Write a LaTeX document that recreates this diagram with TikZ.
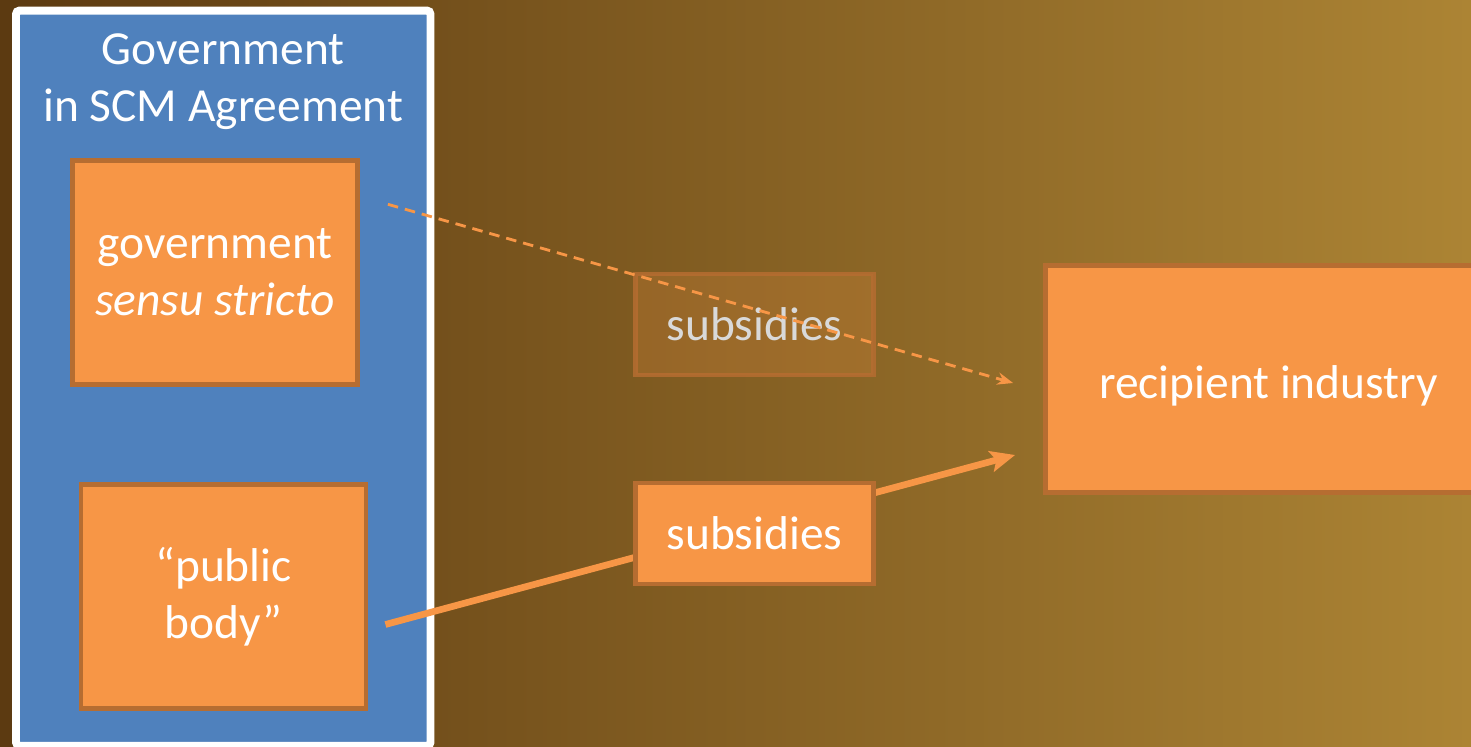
\documentclass[tikz,border=0pt]{standalone}
\usepackage{fontspec}
\setmainfont{Carlito}
\usetikzlibrary{positioning, calc, arrows.meta}

\definecolor{bgleft}{RGB}{92,58,17}
\definecolor{bgright}{RGB}{172,132,52}
\definecolor{scmblue}{RGB}{79,129,189}
\definecolor{boxfill}{RGB}{247,150,70}
\definecolor{boxline}{RGB}{182,109,49}

\begin{document}
\begin{tikzpicture}[x=0.02cm, y=-0.02cm, font=\fontsize{27}{32.5}\selectfont]
    % Define block styles
    \tikzstyle{panel} = [rectangle, draw=white, fill=scmblue, line width=4.5pt, rounded corners=2pt, minimum width=8.29cm, minimum height=14.71cm, inner sep=0pt]
    \tikzstyle{title} = [text=white, align=center, inner sep=0pt]
    \tikzstyle{block} = [rectangle, draw=boxline, fill=boxfill, line width=2.8pt, text=white, align=center, inner sep=0pt]
    \tikzstyle{govt} = [block, minimum width=5.7cm, minimum height=4.47cm]
    \tikzstyle{subs} = [block, minimum width=4.76cm, minimum height=2.02cm]
    \tikzstyle{faded} = [subs, fill opacity=0.2, draw opacity=0.85, text opacity=1, text=black!15]
    \tikzstyle{flow} = [boxfill]
    % Background
    \useasboundingbox (0,0) rectangle (1471,747);
    \shade [left color=bgleft, right color=bgright] (0,0) rectangle (1471,747);
    % Blocks and nodes
    \node [panel] (scm) at (223.25,378.25) {};
    \node [title, below=0.54cm of scm.north] (scmtitle) {Government\\in SCM Agreement};
    \node [govt] (g1) at (215,272.5) {government\\\textit{sensu stricto}};
    \node [govt] (g2) at (223.5,596.5) {“public\\body”};
    \node [block, minimum width=8.92cm, minimum height=4.54cm, text height=26pt] (rec) at (1268.5,379) {recipient industry};
    \node [faded] (sub1) at (754.5,324.5) {subsidies};

    \coordinate (dstart) at ($(g1.north east)+(28,46)$);
    \coordinate (dend) at ($(rec.west)+(-30,4)$);
    \coordinate (sstart) at ($(g2.east)+(17,28)$);
    \coordinate (send) at ($(rec.west)+(-28,76)$);

    % Connections
    \draw[flow, line width=1.6pt, dash pattern=on 6pt off 4pt, -{Stealth[length=9pt, width=7pt]}] (dstart) -- (dend);
    \draw[flow, line width=3.8pt, -{Stealth[length=14pt, width=12pt, inset=3pt]}] (sstart) -- (send);
    \node [subs] (sub2) at (754.5,533.5) {subsidies};

  \end{tikzpicture}
\end{document}
